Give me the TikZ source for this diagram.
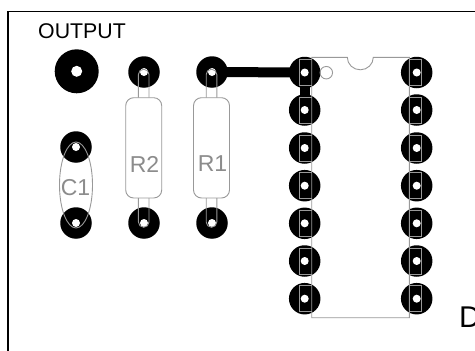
\documentclass[tikz,border=0pt]{standalone}
\usepackage{fontspec}
\setmainfont{Liberation Sans}
\definecolor{part}{gray}{0.6}
\definecolor{parttext}{gray}{0.55}
\tikzset{
  padbig/.style={circle,fill=black,inner sep=0pt,minimum size=44pt},
  padsmall/.style={circle,fill=black,inner sep=0pt,minimum size=31.5pt},
  hole/.style={circle,fill=white,inner sep=0pt,minimum size=8pt},
  holebig/.style={circle,fill=white,inner sep=0pt,minimum size=11pt},
  trace/.style={line width=10pt,black},
  outline/.style={draw=part,line width=0.9pt},
  partlabel/.style={text=parttext,font=\fontsize{23}{23}\selectfont,inner sep=0pt},
  blacklabel/.style={text=black,font=\fontsize{21.3}{21.3}\selectfont,inner sep=0pt},
}
\begin{document}
\begin{tikzpicture}[x=1pt,y=-1pt]
\useasboundingbox (0,0) rectangle (475,351);
\clip (0,0) rectangle (475,351);
\fill[white] (0,0) rectangle (475,351);
% board edge
\draw[black,line width=1.6pt] (8,351) -- (8,11.3) -- (475,11.3);
% pads
\node[padbig] (out) at (76.7,71.3) {};
\node[padsmall] (c1t) at (76,147) {};
\node[padsmall] (c1b) at (76,223) {};
\node[padsmall] (r2t) at (144,72) {};
\node[padsmall] (r2b) at (144,223) {};
\node[padsmall] (r1t) at (212,72) {};
\node[padsmall] (r1b) at (212,223) {};
\foreach \n/\y in {1/72.5,2/110,3/148,4/185.7,5/223.3,6/261,7/298.7}{
  \node[padsmall] (l\n) at (304.7,\y) {};
  \node[padsmall] (r\n) at (416.7,\y) {};
}
% traces
\draw[trace] (r1t.center) -- (l1.center);
\draw[trace] (l1.center) -- (l2.center);
% holes
\node[holebig] at (out.center) {};
\foreach \p in {c1t,c1b,r2t,r2b,r1t,r1b}{\node[hole] at (\p.center) {};}
\foreach \n in {1,...,7}{
  \node[hole] at (l\n.center) {};
  \node[hole] at (r\n.center) {};
}
% IC pins
\foreach \n in {1,...,7}{
  \draw[outline] (311.7,0|-l\n.center) ++(0,-13) -- ++(-12.4,0) -- ++(0,26) -- ++(12.4,0);
  \draw[outline] (409.3,0|-r\n.center) ++(0,-13) -- ++(12.4,0) -- ++(0,26) -- ++(-12.4,0);
}
% IC body
\draw[outline] (311.7,57.3) -- (347.3,57.3) arc[start angle=180,end angle=360,x radius=13pt,y radius=12.5pt] -- (409.3,57.3) -- (409.3,317.7) -- (311.7,317.7) -- cycle;
\node[circle,outline,inner sep=0pt,minimum size=12.5pt] (dot) at (326.3,72.7) {};
% R2, R1
\foreach \x in {143.7,211.5}{
  \draw[outline] (\x-5.3,97.7) -- (\x-5.3,74.5) arc[start angle=180,end angle=0,radius=5.3pt] -- (\x+5.3,97.7);
  \draw[outline] (\x-5.3,198) -- (\x-5.3,222) arc[start angle=180,end angle=360,radius=5.3pt] -- (\x+5.3,198);
  \draw[outline,rounded corners=8pt] (\x-18,97.7) rectangle (\x+18,198);
}
\node[partlabel] (r2lab) at (144.5,164) {R2};
\node[partlabel] (r1lab) at (212.5,164) {R1};
% C1
\draw[outline] (76,185) ellipse[x radius=16.5pt,y radius=43pt];
\node[partlabel] (c1lab) at (75.5,188) {C1};
% labels
\node[blacklabel] (outlab) at (82,31) {OUTPUT};
\node[anchor=base west,inner sep=0pt,font=\fontsize{30}{30}\selectfont] (dlab) at (459,327.7) {D};
\end{tikzpicture}
\end{document}
